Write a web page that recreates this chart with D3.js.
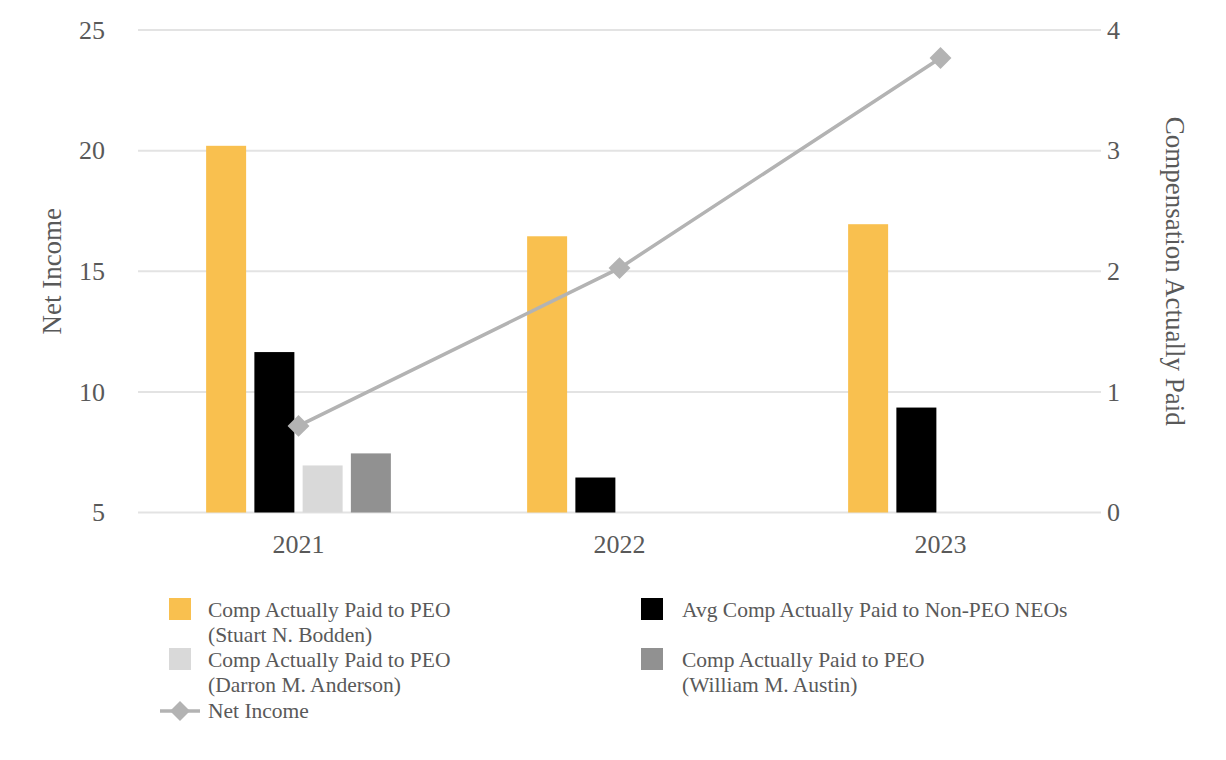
<!DOCTYPE html>
<html>
<head>
<meta charset="utf-8">
<script src="https://cdn.jsdelivr.net/npm/d3@7"></script>
<style>
  html, body { margin: 0; padding: 0; background: #fff; }
  svg { display: block; }
  svg text { font-family: "Liberation Serif", "Times New Roman", serif; fill: #595959; }
</style>
</head>
<body>
<svg id="chart" width="1226" height="760" font-family="Liberation Serif, serif"></svg>
<script>
// ---- data ----
const years = ["2021", "2022", "2023"];
const seriesNames = ["Comp Actually Paid to PEO (Stuart N. Bodden)",
                     "Avg Comp Actually Paid to Non-PEO NEOs",
                     "Comp Actually Paid to PEO (Darron M. Anderson)",
                     "Comp Actually Paid to PEO (William M. Austin)"];
const bodden   = [3.04, 2.29, 2.39];
const nonPeo   = [1.33, 0.29, 0.87];
const anderson = [0.39, null, null];
const austin   = [0.49, null, null];
const netIncome = [8.59, 15.13, 23.84];
const leftTicks = [5, 10, 15, 20, 25];
const rightTicks = [0, 1, 2, 3, 4];
const colors = ["#F9C04F", "#000000", "#D9D9D9", "#919191"];
const lineColor = "#B3B3B3";

(function () {
const barSeries = [bodden, nonPeo, anderson, austin];
const FONT = "Liberation Serif, Times New Roman, serif";

const svg = d3.select("#chart");
const pLeft = 138, pRight = 1101, pTop = 30, pBottom = 512.5;

const x = d3.scaleBand().domain(years).range([pLeft, pRight]).padding(0);
const groupW = 193;
const xi = d3.scaleBand().domain(d3.range(4))
  .range([(x.bandwidth() - groupW) / 2, (x.bandwidth() + groupW) / 2])
  .paddingInner(0.171).paddingOuter(0.0855);

const yL = d3.scaleLinear().domain([5, 25]).range([pBottom, pTop]);
const yR = d3.scaleLinear().domain([0, 4]).range([pBottom, pTop]);

// gridlines
svg.append("g").selectAll("line").data(rightTicks).join("line")
  .attr("x1", pLeft).attr("x2", pRight)
  .attr("y1", d => yR(d)).attr("y2", d => yR(d))
  .attr("stroke", "#E3E3E3").attr("stroke-width", 2);

function styleAxis(g) {
  g.attr("font-family", FONT).attr("font-size", 26);
  g.select(".domain").remove();
  g.selectAll("text").attr("fill", "#595959").style("fill", "#595959");
}

// left axis
svg.append("g").attr("transform", `translate(${pLeft},0)`)
  .call(d3.axisLeft(yL).tickValues(leftTicks).tickSize(0).tickPadding(33)).call(styleAxis);

// right axis
svg.append("g").attr("transform", `translate(${pRight},0)`)
  .call(d3.axisRight(yR).tickValues(rightTicks).tickFormat(d3.format("d")).tickSize(0).tickPadding(6)).call(styleAxis);

// bottom axis
svg.append("g").attr("transform", `translate(0,${pBottom})`)
  .call(d3.axisBottom(x).tickSize(0).tickPadding(22)).call(styleAxis);

// axis titles
svg.append("text").attr("transform", `translate(61,${(pTop + pBottom) / 2}) rotate(-90)`)
  .attr("text-anchor", "middle").attr("font-family", FONT).attr("font-size", 27).text("Net Income");
svg.append("text").attr("transform", `translate(1166,${(pTop + pBottom) / 2}) rotate(90)`)
  .attr("text-anchor", "middle").attr("font-family", FONT).attr("font-size", 27).text("Compensation Actually Paid");

// bars
barSeries.forEach((vals, si) => {
  svg.append("g").selectAll("rect")
    .data(years.map((yr, i) => ({ yr, v: vals[i] })).filter(d => d.v != null))
    .join("rect")
    .attr("x", d => x(d.yr) + xi(si))
    .attr("width", xi.bandwidth())
    .attr("y", d => yR(d.v))
    .attr("height", d => yR(0) - yR(d.v))
    .attr("fill", colors[si]);
});

// line
const line = d3.line().x((d, i) => x(years[i]) + x.bandwidth() / 2).y(d => yL(d));
svg.append("path").datum(netIncome).attr("d", line)
  .attr("fill", "none").attr("stroke", lineColor).attr("stroke-width", 3.5);
svg.append("g").selectAll("path").data(netIncome).join("path")
  .attr("d", d3.symbol(d3.symbolSquare, 240)())
  .attr("transform", (d, i) => `translate(${x(years[i]) + x.bandwidth() / 2},${yL(d)}) rotate(45)`)
  .attr("fill", lineColor);

// legend
const legend = [
  { c: colors[0], lines: ["Comp Actually Paid to PEO", "(Stuart N. Bodden)"], sx: 169, tx: 208, y: 598 },
  { c: colors[1], lines: ["Avg Comp Actually Paid to Non-PEO NEOs"], sx: 641, tx: 682, y: 598 },
  { c: colors[2], lines: ["Comp Actually Paid to PEO", "(Darron M. Anderson)"], sx: 169, tx: 208, y: 648 },
  { c: colors[3], lines: ["Comp Actually Paid to PEO", "(William M. Austin)"], sx: 641, tx: 682, y: 648 }
];
const lg = svg.append("g").attr("font-family", FONT).attr("font-size", 21.5);
legend.forEach(L => {
  lg.append("rect").attr("x", L.sx).attr("y", L.y).attr("width", 22).attr("height", 22).attr("fill", L.c);
  L.lines.forEach((t, k) => {
    lg.append("text").attr("x", L.tx).attr("y", L.y + 19 + k * 25).text(t);
  });
});
lg.append("line").attr("x1", 160).attr("x2", 200).attr("y1", 711).attr("y2", 711)
  .attr("stroke", lineColor).attr("stroke-width", 3.5);
lg.append("path").attr("d", d3.symbol(d3.symbolSquare, 200)())
  .attr("transform", "translate(180,711) rotate(45)").attr("fill", lineColor);
lg.append("text").attr("x", 208).attr("y", 718).text("Net Income");
})();
</script>
</body>
</html>
